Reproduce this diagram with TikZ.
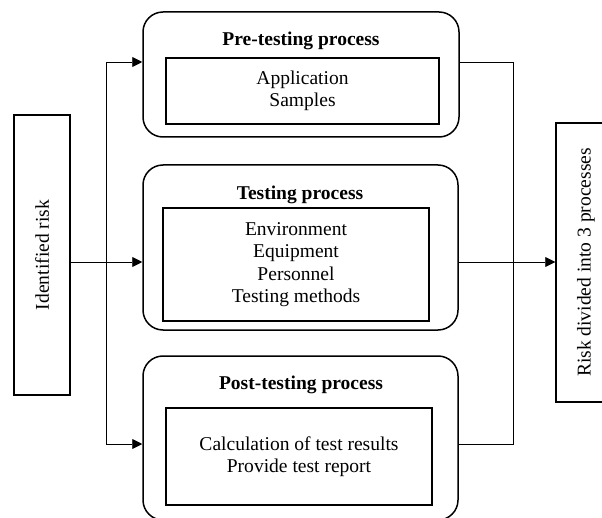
\documentclass[tikz,border=0pt]{standalone}
\usepackage{fontspec}
\setmainfont{Liberation Serif}
\usepackage{graphicx}
\usetikzlibrary{arrows.meta}
\begin{document}
\begin{tikzpicture}[x=1bp,y=-1bp,
  every node/.style={font=\fontsize{19.6}{22.4}\selectfont, inner sep=0pt},
  outerbox/.style={draw, line width=1.5bp, rounded corners=20bp},
  innerbox/.style={draw, line width=1.5bp, align=center},
  sidebox/.style={draw, line width=1.5bp},
  titletext/.style={font=\fontsize{19.6}{22.4}\selectfont\bfseries},
  conn/.style={line width=0.9bp},
  arr/.style={conn, -{Triangle[length=10bp,width=10bp]}}
]
\useasboundingbox (0,0) rectangle (602,518);
\clip (0,0) rectangle (602,518);

% left and right boxes
\node[sidebox, minimum width=56bp, minimum height=280bp] (risk) at (42,255) {\rotatebox{90}{Identified risk}};
\node[sidebox, minimum width=60bp, minimum height=279bp] (out) at (586,262.5) {\rotatebox{90}{Risk divided into 3 processes}};

% process boxes
\node[outerbox, minimum width=316bp, minimum height=125bp] (pre) at (301,74.5) {};
\node[titletext] (pretitle) at (301,41) {Pre-testing process};
\node[innerbox, minimum width=273bp, minimum height=66bp] (preinner) at (302.5,91) {Application\\Samples};

\node[outerbox, minimum width=315bp, minimum height=165bp] (test) at (300.5,247.5) {};
\node[titletext] (testtitle) at (300,195) {Testing process};
\node[innerbox, minimum width=266bp, minimum height=113bp] (testinner) at (296,264.5) {Environment\\Equipment\\Personnel\\Testing methods};

\node[outerbox, minimum width=315bp, minimum height=164bp] (post) at (300.5,438) {};
\node[titletext] (posttitle) at (301,385) {Post-testing process};
\node[innerbox, minimum width=266bp, minimum height=97bp] (postinner) at (299,456.5) {Calculation of test results\\Provide test report};

% junction coordinates
\coordinate (jt) at (106,62);
\coordinate (jm) at (106,262);
\coordinate (jb) at (106,444);
\coordinate (rt) at (513,62);
\coordinate (rb) at (513,444);
\coordinate (rm) at (513,262);

% left connectors
\draw[conn] (jt) -- (jb);
\draw[conn] (risk.east |- jm) -- (jm);
\draw[arr] (jm) -- (test.west |- jm);
\draw[arr] (jt) -- (pre.west |- jt);
\draw[arr] (jb) -- (post.west |- jb);

% right connectors
\draw[conn] (pre.east |- rt) -- (rt) -- (rb) -- (post.east |- rb);
\draw[arr] (test.east |- rm) -- (out.west |- rm);
\end{tikzpicture}
\end{document}
